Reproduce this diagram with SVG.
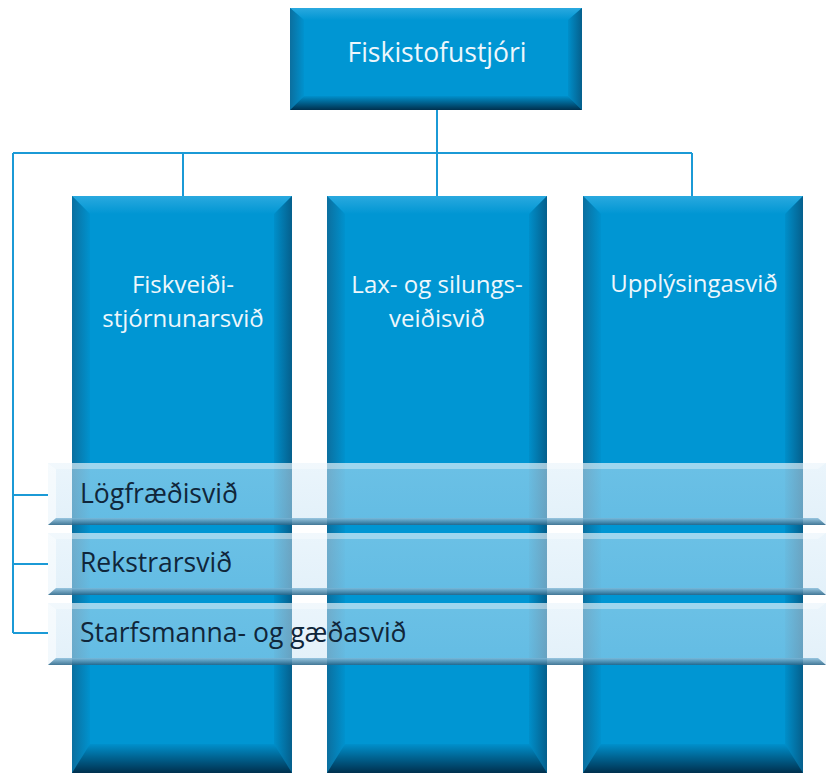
<svg xmlns="http://www.w3.org/2000/svg" width="828" height="773" viewBox="0 0 828 773">
<defs>
<linearGradient id="gTop" x1="0" y1="0" x2="0" y2="1"><stop offset="0" stop-color="#2aa9df"/><stop offset="1" stop-color="#0096d3"/></linearGradient>
<linearGradient id="gBot" x1="0" y1="0" x2="0" y2="1"><stop offset="0" stop-color="#0090cc"/><stop offset="1" stop-color="#00304e"/></linearGradient>
<linearGradient id="gLeft" x1="0" y1="0" x2="1" y2="0"><stop offset="0" stop-color="#0b6f9f"/><stop offset="1" stop-color="#0092ce"/></linearGradient>
<linearGradient id="gRight" x1="0" y1="0" x2="1" y2="0"><stop offset="0" stop-color="#008fca"/><stop offset="1" stop-color="#055f8c"/></linearGradient>
<linearGradient id="gBar" x1="0" y1="0" x2="0" y2="1"><stop offset="0" stop-color="#d6ebf8"/><stop offset="1" stop-color="#c6e2f4"/></linearGradient>
<linearGradient id="gBarBot" x1="0" y1="0" x2="0" y2="1"><stop offset="0" stop-color="#7fb8d8"/><stop offset="1" stop-color="#0d4f75"/></linearGradient>
</defs>
<style>
.base{fill:#0096d3}
.bt{fill:url(#gTop)}
.bb{fill:url(#gBot)}
.bl{fill:url(#gLeft)}
.br{fill:url(#gRight)}
.conn{fill:none;stroke:#1b9ad6;stroke-width:2}
.wt{font-family:"Open Sans","Noto Sans",sans-serif;fill:#eef7fc;text-anchor:middle}
.bar{fill:url(#gBar);opacity:0.5}
.barTop{fill:#ffffff;opacity:0.35}
.barLeft{fill:#ffffff;opacity:0.55}
.barBot{fill:url(#gBarBot);opacity:0.75}
.dt{font-family:"Open Sans","Noto Sans",sans-serif;fill:#10263a;font-size:26.5px}
</style>

<g id="connectors">
<path class="conn" d="M437,110 V196 M13,153 H692 M183,153 V196 M692,153 V196 M13,153 V633 M13,495 H48 M13,564 H48 M13,633 H48"/>
</g>

<g id="node-top">
<rect class="base" x="290" y="8" width="292" height="102"/>
<polygon class="bt" points="290,8 582,8 568,20 304,20"/>
<polygon class="bl" points="290,8 304,20 304,96 290,110"/>
<polygon class="br" points="582,8 582,110 568,96 568,20"/>
<polygon class="bb" points="290,110 304,96 568,96 582,110"/>
<text class="wt" x="437" y="62" font-size="26.5">Fiskistofustjóri</text>
</g>

<g id="node-col1">
<rect class="base" x="72" y="196" width="220" height="577"/>
<polygon class="bt" points="72,196 292,196 274,214 90,214"/>
<polygon class="bl" points="72,196 90,214 90,755 72,773"/>
<polygon class="br" points="292,196 292,773 274,755 274,214"/>
<polygon class="bb" points="72,773 90,744 274,744 292,773"/>
<text class="wt" x="183" y="293" font-size="24">Fiskveiði-</text>
<text class="wt" x="183" y="327" font-size="24">stjórnunarsvið</text>
</g>

<g id="node-col2">
<rect class="base" x="327" y="196" width="220" height="577"/>
<polygon class="bt" points="327,196 547,196 529,214 345,214"/>
<polygon class="bl" points="327,196 345,214 345,755 327,773"/>
<polygon class="br" points="547,196 547,773 529,755 529,214"/>
<polygon class="bb" points="327,773 345,744 529,744 547,773"/>
<text class="wt" x="437" y="293" font-size="24">Lax- og silungs-</text>
<text class="wt" x="437" y="327" font-size="24">veiðisvið</text>
</g>

<g id="node-col3">
<rect class="base" x="583" y="196" width="220" height="577"/>
<polygon class="bt" points="583,196 803,196 785,214 601,214"/>
<polygon class="bl" points="583,196 601,214 601,755 583,773"/>
<polygon class="br" points="803,196 803,773 785,755 785,214"/>
<polygon class="bb" points="583,773 601,744 785,744 803,773"/>
<text class="wt" x="694" y="292" font-size="24">Upplýsingasvið</text>
</g>

<g id="node-bar1">
<rect class="bar" x="48" y="463" width="778" height="62"/>
<polygon class="barTop" points="48,463 826,463 818,469 56,469"/>
<polygon class="barLeft" points="48,463 56,469 56,518 48,525"/>
<polygon class="barBot" points="48,525 56,518 818,518 826,525"/>
<text class="dt" x="80" y="503">Lögfræðisvið</text>
</g>

<g id="node-bar2">
<rect class="bar" x="48" y="533" width="778" height="62"/>
<polygon class="barTop" points="48,533 826,533 818,539 56,539"/>
<polygon class="barLeft" points="48,533 56,539 56,588 48,595"/>
<polygon class="barBot" points="48,595 56,588 818,588 826,595"/>
<text class="dt" x="80" y="572">Rekstrarsvið</text>
</g>

<g id="node-bar3">
<rect class="bar" x="48" y="603" width="778" height="62"/>
<polygon class="barTop" points="48,603 826,603 818,609 56,609"/>
<polygon class="barLeft" points="48,603 56,609 56,658 48,665"/>
<polygon class="barBot" points="48,665 56,658 818,658 826,665"/>
<text class="dt" x="80" y="642">Starfsmanna- og gæðasvið</text>
</g>
</svg>
